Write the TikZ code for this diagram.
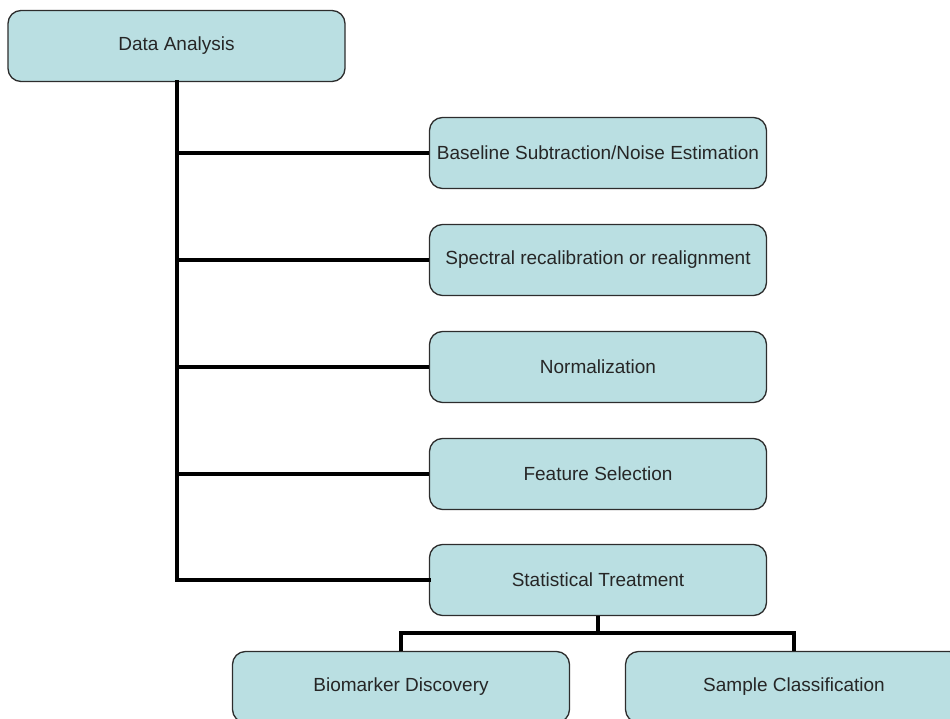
\documentclass[tikz,border=0pt]{standalone}
\usepackage{fontspec}
\setmainfont{Liberation Sans}
\definecolor{boxfill}{RGB}{186,223,226}
\definecolor{boxline}{RGB}{45,45,45}
\begin{document}
\begin{tikzpicture}[x=1pt,y=-1pt,
  box/.style={draw=boxline,line width=1.3pt,fill=boxfill,rounded corners=13pt,
    minimum width=337pt,minimum height=71pt,inner sep=0pt,
    font=\fontsize{19}{22}\selectfont,text=black!85},
  link/.style={line width=4pt,black}]
\clip (0,0) rectangle (950,719);
\useasboundingbox (0,0) rectangle (950,719);
\node[box] (da) at (176.5,46) {Data Analysis};
\node[box] (b1) at (598,153) {Baseline Subtraction/Noise Estimation};
\node[box] (b2) at (598,260) {Spectral recalibration or realignment};
\node[box] (b3) at (598,367) {Normalization};
\node[box] (b4) at (598,474) {Feature Selection};
\node[box] (st) at (598,580) {Statistical Treatment};
\node[box] (bio) at (401,687) {Biomarker Discovery};
\node[box] (sc) at (794,687) {Sample Classification};
\coordinate (j) at (598,633);
\draw[link,line cap=rect] (da.south) |- (st.west);
\draw[link] (da.south |- b1.west) -- (b1.west);
\draw[link] (da.south |- b2.west) -- (b2.west);
\draw[link] (da.south |- b3.west) -- (b3.west);
\draw[link] (da.south |- b4.west) -- (b4.west);
\draw[link] (st.south) -- (j);
\draw[link] (j) -| (bio.north);
\draw[link] (j) -| (sc.north);
\end{tikzpicture}
\end{document}
